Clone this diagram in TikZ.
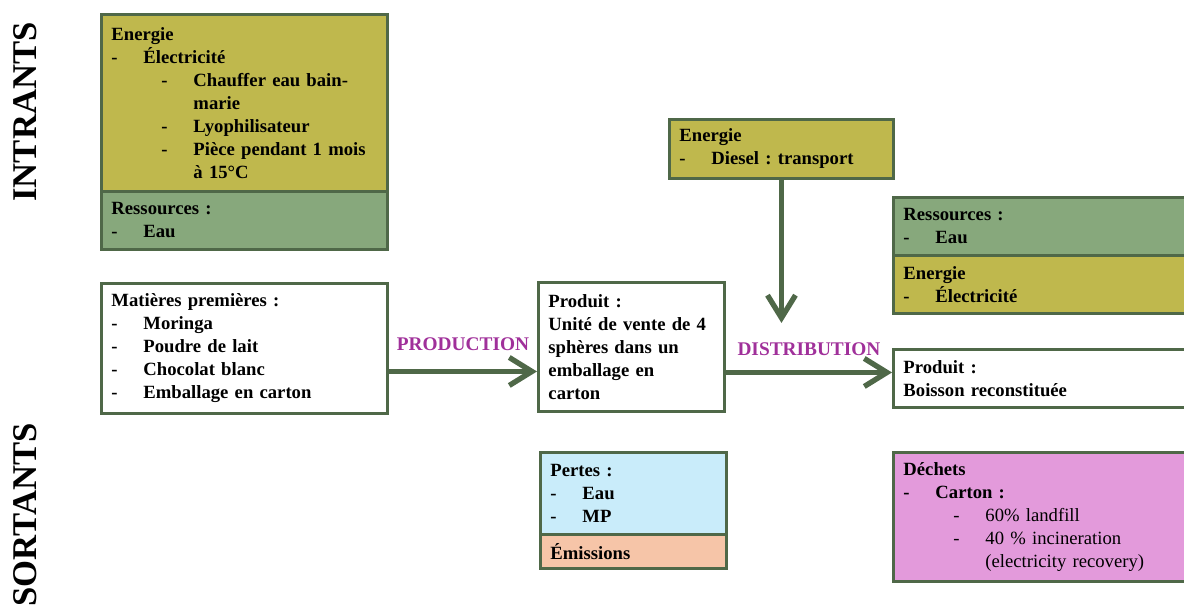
\documentclass[tikz,border=0pt]{standalone}
\usepackage{fontspec}
\setmainfont{Liberation Serif}
\usetikzlibrary{arrows.meta, positioning, calc}
\definecolor{VertBord}{RGB}{79,104,72}
\definecolor{Olive}{RGB}{191,184,77}
\definecolor{VertRes}{RGB}{135,168,124}
\definecolor{BleuPertes}{RGB}{201,236,250}
\definecolor{Saumon}{RGB}{246,197,168}
\definecolor{Rose}{RGB}{227,154,219}
\definecolor{Violet}{RGB}{160,48,154}
\frenchspacing

\newcommand{\puce}[1]{\makebox[24pt][l]{-}#1}
\newcommand{\sspuce}[1]{\hspace*{37.5pt}\makebox[24pt][l]{-}#1}
\newcommand{\suite}[1]{\hspace*{61.5pt}#1}

\begin{document}
\begin{tikzpicture}[x=0.75pt, y=-0.75pt,
  boite/.style={
    rectangle, draw=VertBord, line width=2.2pt,
    anchor=north west, align=left,
    inner xsep=7.5pt, inner ysep=2pt,
    font=\fontsize{14}{17.25}\selectfont\bfseries
  },
  titre/.style={rotate=90, font=\fontsize{26}{30}\selectfont\bfseries},
  etiq/.style={font=\fontsize{14.5}{16}\selectfont\bfseries\color{Violet}, inner sep=0pt, anchor=base},
  fleche/.style={draw=VertBord, line width=4pt, -{Straight Barb[length=17pt, width=21pt]}}
]
  \clip (0,0) rectangle (1184,606);

  \node[titre] (intr) at (25,112) {INTRANTS};
  \node[titre] (sort) at (25,515) {SORTANTS};

  % production
  \node[boite, fill=Olive, minimum width=214.5pt, minimum height=132.75pt, text width=199.5pt] (eneA) at (100,13)
    {Energie\\ \puce{Électricité}\\ \sspuce{Chauffer eau bain-}\\ \suite{marie}\\
     \sspuce{Lyophilisateur}\\ \sspuce{Pièce pendant 1 mois}\\ \suite{à 15°C}};
  \node[boite, fill=VertRes, minimum width=214.5pt, minimum height=43.5pt, text width=199.5pt] (resA) at (100,190)
    {Ressources :\\ \puce{Eau}};
  \node[boite, fill=white, minimum width=214.5pt, minimum height=97.5pt, text width=199.5pt] (mat) at (100,282)
    {Matières premières :\\ \puce{Moringa}\\ \puce{Poudre de lait}\\ \puce{Chocolat blanc}\\ \puce{Emballage en carton}};
  \node[boite, fill=white, minimum width=139.5pt, minimum height=96.75pt, text width=124.5pt] (prodA) at (537,281)
    {Produit :\\ Unité de vente de 4\\ sphères dans un\\ emballage en\\ carton};
  \node[boite, fill=BleuPertes, minimum width=139.5pt, minimum height=61.5pt, text width=124.5pt] (pertes) at (539,451)
    {Pertes :\\ \puce{Eau}\\ \puce{MP}};
  \node[boite, fill=Saumon, minimum width=139.5pt, minimum height=25.5pt, text width=124.5pt] (emis) at (539,533)
    {Émissions};

  % distribution
  \node[boite, fill=Olive, minimum width=168pt, minimum height=44.25pt, text width=153pt] (eneB) at (668,118)
    {Energie\\ \puce{Diesel : transport}};
  \node[boite, fill=VertRes, minimum width=240pt, minimum height=43.5pt, text width=225pt] (resC) at (892,196)
    {Ressources :\\ \puce{Eau}};
  \node[boite, fill=Olive, minimum width=240pt, minimum height=43.5pt, text width=225pt] (eneC) at (892,254)
    {Energie\\ \puce{Électricité}};
  \node[boite, fill=white, minimum width=240pt, minimum height=43.5pt, text width=225pt] (prodC) at (892,348)
    {Produit :\\ Boisson reconstituée};
  \node[boite, fill=Rose, minimum width=240pt, minimum height=96.75pt, text width=225pt] (dech) at (892,451)
    {Déchets\\ \puce{Carton :}\\ {\mdseries\sspuce{60\% landfill}}\\
     {\mdseries\sspuce{40 \% incineration}}\\ {\mdseries\suite{(electricity recovery)}}};

  \coordinate (pA) at ($(mat.east)+(0,23)$);
  \coordinate (pB) at ($(prodA.east)+(0,25.5)$);
  \coordinate (pointe) at ($(eneB.south)+(0,143)$);

  \draw[fleche] (pA) -- (pA -| prodA.west) node[etiq, midway, yshift=16pt] (lprod) {PRODUCTION};
  \draw[fleche] (pB) -- (pB -| prodC.west) node[etiq, midway, yshift=13pt] (ldist) {DISTRIBUTION};
  \draw[fleche] (eneB.south) -- (pointe);
\end{tikzpicture}
\end{document}
